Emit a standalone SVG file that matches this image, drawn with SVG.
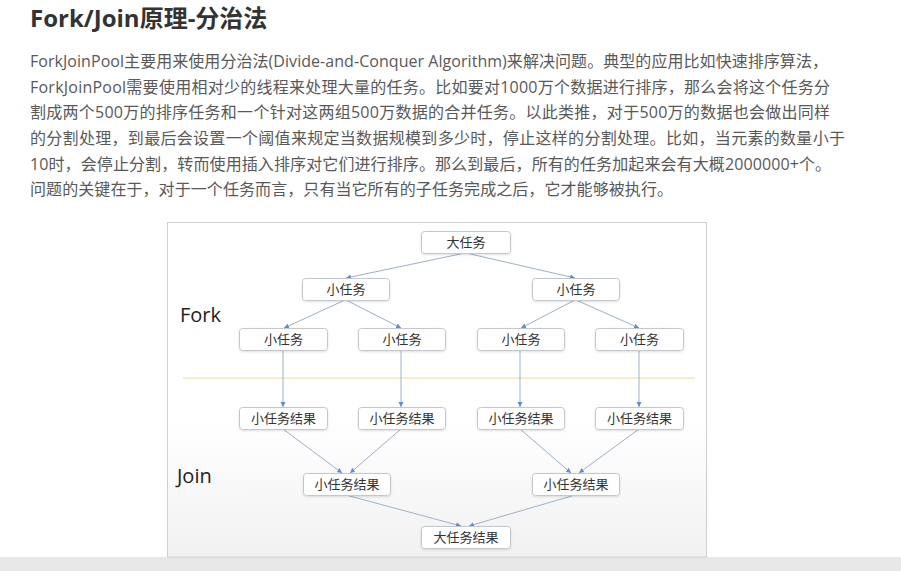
<svg xmlns="http://www.w3.org/2000/svg" width="901" height="571" viewBox="0 0 901 571">
<defs>
<style>
.title{font-family:"Open Sans","Noto Sans CJK SC",sans-serif;font-size:24px;font-weight:bold;fill:#333}
.body{font-family:"Open Sans","Noto Sans CJK SC",sans-serif;font-size:16px;fill:#595959}
.lbl{font-family:"Open Sans","Liberation Sans",sans-serif;font-size:20px;fill:#222}
.box{fill:#fff;stroke:#c4c8cc;stroke-width:1}
.nt{font-family:"Noto Sans CJK SC",sans-serif;font-size:13px;fill:#333;text-anchor:middle}
.edge{stroke:#9ab2cc;stroke-width:1;fill:none;marker-end:url(#ah)}
</style>
<marker id="ah" markerWidth="6" markerHeight="6" refX="5" refY="3" orient="auto" markerUnits="userSpaceOnUse">
<path d="M0,0.5 L5,3 L0,5.5 z" fill="#5b8fd0"/>
</marker>
<linearGradient id="bg" x1="0" y1="0" x2="0" y2="1">
<stop offset="0" stop-color="#ffffff"/>
<stop offset="0.6" stop-color="#ffffff"/>
<stop offset="1" stop-color="#f1f1f1"/>
</linearGradient>
<filter id="sh" x="-10%" y="-20%" width="120%" height="150%">
<feDropShadow dx="0" dy="1" stdDeviation="0.8" flood-color="#000" flood-opacity="0.12"/>
</filter>
</defs>
<rect width="901" height="571" fill="#fff"/>
<rect x="0" y="557" width="901" height="14" fill="#e7e7e7"/>
<text class="title" x="30" y="27">Fork/Join原理-分治法</text>
<g id="paragraph">
<text class="body" x="30" y="67" textLength="798" lengthAdjust="spacing">ForkJoinPool主要用来使用分治法(Divide-and-Conquer Algorithm)来解决问题。典型的应用比如快速排序算法，</text>
<text class="body" x="30" y="93" textLength="800" lengthAdjust="spacing">ForkJoinPool需要使用相对少的线程来处理大量的任务。比如要对1000万个数据进行排序，那么会将这个任务分</text>
<text class="body" x="30" y="118" textLength="800" lengthAdjust="spacing">割成两个500万的排序任务和一个针对这两组500万数据的合并任务。以此类推，对于500万的数据也会做出同样</text>
<text class="body" x="30" y="144" textLength="815" lengthAdjust="spacing">的分割处理，到最后会设置一个阈值来规定当数据规模到多少时，停止这样的分割处理。比如，当元素的数量小于</text>
<text class="body" x="30" y="170" textLength="801" lengthAdjust="spacing">10时，会停止分割，转而使用插入排序对它们进行排序。那么到最后，所有的任务加起来会有大概2000000+个。</text>
<text class="body" x="30" y="195" textLength="643" lengthAdjust="spacing">问题的关键在于，对于一个任务而言，只有当它所有的子任务完成之后，它才能够被执行。</text>
</g>
<rect x="167.5" y="222.5" width="539" height="334.5" fill="url(#bg)" stroke="#cfcfcf"/>
<line x1="183" y1="378" x2="695" y2="378" stroke="#f3d79c" stroke-width="1.2"/>
<text class="lbl" x="180" y="322">Fork</text>
<text class="lbl" x="177" y="483">Join</text>
<g id="connectors">
<line class="edge" x1="465" y1="253" x2="346" y2="278"/>
<line class="edge" x1="466" y1="253" x2="575" y2="278"/>
<line class="edge" x1="345" y1="300" x2="284" y2="328"/>
<line class="edge" x1="346" y1="300" x2="401" y2="328"/>
<line class="edge" x1="575" y1="300" x2="521" y2="328"/>
<line class="edge" x1="576" y1="300" x2="639" y2="328"/>
<line class="edge" x1="283" y1="351" x2="283" y2="407"/>
<line class="edge" x1="401" y1="351" x2="401" y2="407"/>
<line class="edge" x1="520" y1="351" x2="520" y2="407"/>
<line class="edge" x1="639" y1="351" x2="639" y2="407"/>
<line class="edge" x1="283" y1="429" x2="342" y2="473"/>
<line class="edge" x1="401" y1="429" x2="350" y2="473"/>
<line class="edge" x1="520" y1="429" x2="571" y2="473"/>
<line class="edge" x1="639" y1="429" x2="579" y2="473"/>
<line class="edge" x1="346" y1="495" x2="461" y2="526"/>
<line class="edge" x1="575" y1="495" x2="469" y2="526"/>
</g>
<g id="n-big"><rect class="box" filter="url(#sh)" x="421.5" y="231.5" width="89" height="22" rx="3"/><text class="nt" x="466" y="247">大任务</text></g>
<g id="n-sL"><rect class="box" filter="url(#sh)" x="302.5" y="278.5" width="87" height="22" rx="3"/><text class="nt" x="346" y="294">小任务</text></g>
<g id="n-sR"><rect class="box" filter="url(#sh)" x="532.5" y="278.5" width="87" height="22" rx="3"/><text class="nt" x="576" y="294">小任务</text></g>
<g id="n-t1"><rect class="box" filter="url(#sh)" x="239.5" y="328.5" width="88" height="22" rx="3"/><text class="nt" x="283.5" y="344">小任务</text></g>
<g id="n-t2"><rect class="box" filter="url(#sh)" x="358.5" y="328.5" width="87" height="22" rx="3"/><text class="nt" x="402" y="344">小任务</text></g>
<g id="n-t3"><rect class="box" filter="url(#sh)" x="477.5" y="328.5" width="87" height="22" rx="3"/><text class="nt" x="521" y="344">小任务</text></g>
<g id="n-t4"><rect class="box" filter="url(#sh)" x="595.5" y="328.5" width="88" height="22" rx="3"/><text class="nt" x="639.5" y="344">小任务</text></g>
<g id="n-r1"><rect class="box" filter="url(#sh)" x="239.5" y="407.5" width="88" height="22" rx="3"/><text class="nt" x="283.5" y="423">小任务结果</text></g>
<g id="n-r2"><rect class="box" filter="url(#sh)" x="358.5" y="407.5" width="87" height="22" rx="3"/><text class="nt" x="402" y="423">小任务结果</text></g>
<g id="n-r3"><rect class="box" filter="url(#sh)" x="477.5" y="407.5" width="87" height="22" rx="3"/><text class="nt" x="521" y="423">小任务结果</text></g>
<g id="n-r4"><rect class="box" filter="url(#sh)" x="595.5" y="407.5" width="88" height="22" rx="3"/><text class="nt" x="639.5" y="423">小任务结果</text></g>
<g id="n-jL"><rect class="box" filter="url(#sh)" x="303.5" y="473.5" width="87" height="22" rx="3"/><text class="nt" x="347" y="489">小任务结果</text></g>
<g id="n-jR"><rect class="box" filter="url(#sh)" x="532.5" y="473.5" width="87" height="22" rx="3"/><text class="nt" x="576" y="489">小任务结果</text></g>
<g id="n-final"><rect class="box" filter="url(#sh)" x="421.5" y="526.5" width="89" height="22" rx="3"/><text class="nt" x="466" y="542">大任务结果</text></g>
</svg>
